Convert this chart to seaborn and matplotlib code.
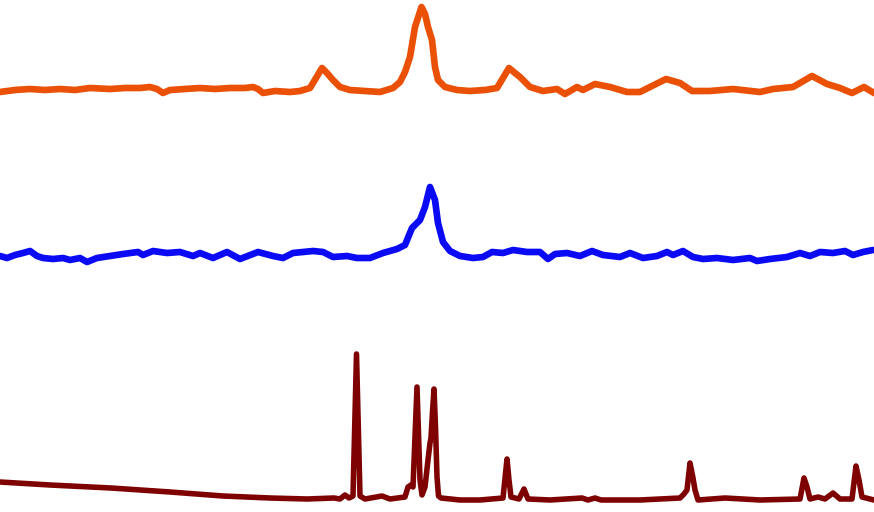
"""Stacked XRD patterns (offset intensities), no axes drawn."""

import matplotlib

matplotlib.use("Agg")
import matplotlib.pyplot as plt  # noqa: E402
import pandas as pd  # noqa: E402
import seaborn as sns  # noqa: E402

sns.set_theme(style="white")

# top trace (orange)
orange_2theta = [
    5.0, 6.5, 8.0, 9.5, 11.0, 12.5, 14.0, 16.0, 17.5, 19.0, 20.0, 20.7, 21.3, 22.0,
    23.5, 25.0, 26.5, 28.0, 29.5, 30.3, 30.8, 31.3, 32.5, 34.0, 35.0, 36.0, 36.6,
    37.2, 37.7, 38.3, 39.0, 40.0, 41.5, 43.0, 44.3, 45.0, 45.5, 46.0, 46.5, 47.15,
    47.5, 47.8, 48.2, 48.5, 48.8, 49.5, 50.7, 52.0, 53.5, 54.7, 55.3, 55.9, 56.5,
    57.0, 58.0, 59.3, 60.7, 61.5, 62.7, 63.3, 64.5, 66.0, 67.7, 69.0, 70.0, 71.6,
    73.0, 74.2, 76.0, 78.3, 81.0, 82.3, 84.3, 86.2, 87.7, 89.0, 90.2, 91.4, 92.4,
]
orange_int = [
    420, 422, 423, 422, 423, 422, 424, 423, 424, 424, 425, 423, 419, 422,
    423, 424, 423, 424, 424, 425, 423, 419, 421, 420, 421, 424, 434,
    444, 439, 432, 425, 422, 421, 420, 424, 430, 440, 455, 485, 505,
    498, 485, 472, 445, 432, 425, 422, 421, 422, 424, 434, 444, 439,
    435, 425, 421, 423, 418, 425, 422, 428, 425, 420, 420, 425, 433,
    429, 421, 421, 423, 420, 423, 425, 436, 428, 424, 419, 425, 419,
]

# middle trace (blue)
blue_2theta = [
    5.0, 5.7, 6.5, 7.3, 8.0, 8.7, 9.3, 10.3, 11.3, 12.0,
    13.0, 13.7, 14.7, 16.0, 17.3, 18.8, 19.3, 20.3, 21.7, 23.0,
    24.3, 25.0, 26.3, 27.7, 29.0, 30.8, 32.3, 33.3, 34.3, 36.3,
    37.3, 38.3, 39.7, 40.7, 42.0, 43.3, 44.7, 45.5, 46.2, 47.0,
    47.5, 48.0, 48.5, 48.8, 49.3, 50.0, 51.0, 52.3, 53.3, 54.2,
    55.3, 56.3, 57.7, 59.0, 59.8, 60.5, 61.7, 63.0, 64.2, 65.3,
    67.0, 68.0, 69.3, 70.7, 71.7, 72.3, 73.3, 74.3, 75.3, 76.7,
    78.3, 80.0, 80.7, 82.0, 83.7, 85.0, 86.0, 87.0, 88.3, 89.5,
    90.3, 91.3, 92.3,
]
blue_int = [
    256, 254, 257, 259, 261, 256, 254, 253, 254, 252,
    254, 250, 254, 256, 258, 260, 257, 261, 259, 260,
    256, 259, 254, 260, 253, 260, 256, 254, 259, 261,
    260, 255, 256, 254, 254, 259, 263, 267, 284, 292,
    305, 325, 312, 289, 270, 261, 256, 254, 255, 260,
    259, 262, 260, 260, 253, 258, 259, 256, 261, 257,
    255, 259, 254, 256, 260, 257, 261, 255, 253, 254,
    252, 254, 251, 253, 255, 259, 256, 260, 259, 261,
    257, 260, 262,
]

# bottom trace (dark red)
red_2theta = [
    5.0, 10.0, 16.1, 22.0, 27.3, 32.0, 35.7, 38.4, 39.0, 39.5, 39.9, 40.3, 40.65,
    41.0, 41.5, 43.2, 44.0, 45.5, 45.8, 46.1, 46.3, 46.7, 47.0, 47.2, 47.5, 47.8,
    48.0, 48.1, 48.25, 48.4, 48.55, 48.7, 48.85, 49.1, 51.0, 53.0, 55.3, 55.7,
    55.9, 56.1, 56.9, 57.4, 57.8, 60.0, 63.2, 63.8, 64.5, 65.1, 69.0, 73.0, 73.4,
    73.7, 74.0, 74.3, 74.5, 74.8, 77.5, 81.0, 85.0, 85.4, 85.7, 86.0, 86.8, 87.5,
    88.3, 89.0, 90.2, 90.6, 90.9, 91.2, 92.4,
]
red_int = [
    30, 27, 24, 20, 16, 14, 13, 14, 13, 17, 14, 16, 158,
    16, 13, 16, 13, 15, 25, 27, 25, 125, 32, 17, 25, 52,
    69, 74, 100, 123, 85, 35, 16, 14, 12, 12, 14, 53,
    32, 15, 13, 23, 13, 12, 14, 12, 14, 12, 12, 14, 18,
    22, 49, 34, 22, 12, 14, 12, 13, 34, 25, 13, 15, 13,
    19, 13, 13, 46, 32, 15, 12,
]

traces = [
    (orange_2theta, orange_int, "#EA5106", 4.8),
    (blue_2theta, blue_int, "#0A0AF5", 4.8),
    (red_2theta, red_int, "#7E0202", 4.0),
]

fig = plt.figure(figsize=(8.74, 5.12), dpi=100)
ax = fig.add_axes([0, 0, 1, 1])
for xs, ys, color, lw in traces:
    df = pd.DataFrame({"two_theta": xs, "intensity": ys})
    sns.lineplot(
        data=df, x="two_theta", y="intensity", ax=ax, color=color, linewidth=lw,
        estimator=None, solid_joinstyle="round", solid_capstyle="round",
    )

ax.set_xlim(5.0, 92.4)
ax.set_ylim(0, 512)
ax.set_axis_off()
fig.savefig("out.png", dpi=100)
plt.close(fig)
